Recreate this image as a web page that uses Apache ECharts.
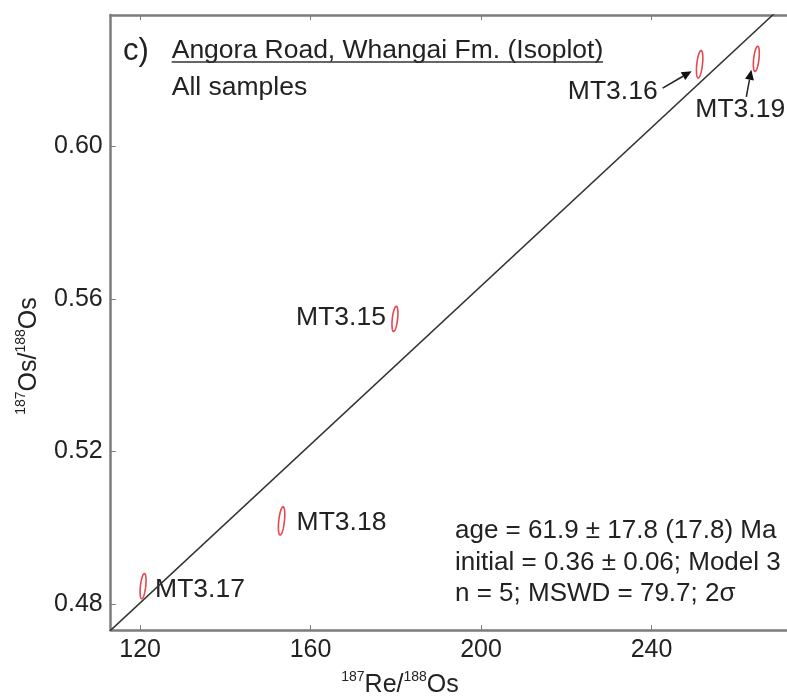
<!DOCTYPE html>
<html><head><meta charset="utf-8">
<script src="https://cdn.jsdelivr.net/npm/echarts@6/dist/echarts.min.js"></script>
<style>html,body{margin:0;padding:0;background:#fff}#c{width:787px;height:696px}</style>
</head><body><div id="c"></div>
<script>
// ---- data ----
const sampleNames = ['MT3.15', 'MT3.16', 'MT3.17', 'MT3.18', 'MT3.19'];
const reOs = [179.8, 251.3, 120.7, 153.2, 264.6];          // 187Re/188Os
const osOs = [0.5548, 0.6216, 0.4847, 0.5018, 0.6230];     // 187Os/188Os
const reErr2s = [0.7, 0.75, 0.7, 0.75, 0.7];
const osErr2s = [0.0033, 0.0036, 0.0033, 0.0037, 0.0033];
const errRho = [0.45, 0.45, 0.45, 0.45, 0.45];
const isochronRe = [110, 290];
const isochronOs = [0.4699, 0.6569];
const xTicks = [120, 160, 200, 240];
const yTicks = [0.48, 0.52, 0.56, 0.60];
const statsLines = ['age = 61.9 ± 17.8 (17.8) Ma', 'initial = 0.36 ± 0.06; Model 3', 'n = 5; MSWD = 79.7; 2σ'];

// ---- layout (pixels) for annotations, kept apart from data ----
const labelLayout = {
  'MT3.15': {dx: -9, dy: -1, align: 'right'},
  'MT3.16': {dx: -42, dy: 28, align: 'right', arrow: [-37, 24, -8, 7]},
  'MT3.17': {dx: 12, dy: 4, align: 'left'},
  'MT3.18': {dx: 15, dy: 2, align: 'left'},
  'MT3.19': {dx: -61, dy: 51, align: 'left', arrow: [-10, 38, -5, 11]}
};
const FONT = '"Liberation Sans", Arial, sans-serif';
const TXT = '#222';

const ellipseData = sampleNames.map((n, i) => [reOs[i], osOs[i], reErr2s[i], osErr2s[i], errRho[i]]);
const labelData = sampleNames.map((n, i) => [reOs[i], osOs[i]]);
const isoData = isochronRe.map((x, i) => [x, isochronOs[i]]);

const chart = echarts.init(document.getElementById('c'), null, {renderer: 'canvas'});
const axisLineStyle = {color: '#7c7c7c', width: 2.5};
const X_MIN = 113.1, X_MAX = 271.8;
const option = {
  backgroundColor: '#fff',
  animation: false,
  grid: {left: 110.7, top: 15, bottom: 66, right: 0},
  xAxis: [{
    type: 'value', min: X_MIN, max: X_MAX, position: 'bottom',
    axisLine: {show: true, lineStyle: axisLineStyle},
    axisTick: {show: true, inside: true, length: 5, customValues: xTicks, lineStyle: {color: '#7c7c7c'}},
    axisLabel: {customValues: xTicks, fontSize: 25, fontFamily: FONT, color: TXT, margin: 8},
    splitLine: {show: false}
  }, {
    type: 'value', min: X_MIN, max: X_MAX, position: 'top',
    axisLine: {show: true, lineStyle: axisLineStyle},
    axisTick: {show: true, inside: true, length: 5, customValues: xTicks, lineStyle: {color: '#7c7c7c'}},
    axisLabel: {show: false}, splitLine: {show: false}
  }],
  yAxis: [{
    type: 'value', min: 0.4732, max: 0.6345,
    axisLine: {show: true, lineStyle: axisLineStyle},
    axisTick: {show: true, inside: true, length: 5, customValues: yTicks, lineStyle: {color: '#7c7c7c'}},
    axisLabel: {customValues: yTicks, fontSize: 25, fontFamily: FONT, color: TXT, margin: 8,
      formatter: v => v.toFixed(2)},
    splitLine: {show: false}
  }],
  series: [{
    type: 'line', data: isoData, symbol: 'none', clip: true, silent: true,
    lineStyle: {color: '#333', width: 1.5}
  }, {
    type: 'custom', data: ellipseData, encode: {x: 0, y: 1}, clip: false,
    renderItem(params, api) {
      const cx = api.value(0), cy = api.value(1), sx = api.value(2), sy = api.value(3), r = api.value(4);
      const pts = [];
      for (let k = 0; k <= 72; k++) {
        const t = k / 72 * 2 * Math.PI;
        pts.push(api.coord([cx + sx * Math.cos(t), cy + sy * (r * Math.cos(t) + Math.sqrt(1 - r * r) * Math.sin(t))]));
      }
      return {type: 'polygon', shape: {points: pts}, style: {fill: 'none', stroke: '#e5484f', lineWidth: 1.6}};
    }
  }, {
    type: 'custom', data: labelData, encode: {x: 0, y: 1}, clip: false,
    renderItem(params, api) {
      const name = sampleNames[params.dataIndex];
      const L = labelLayout[name];
      const p = api.coord([api.value(0), api.value(1)]);
      const children = [{
        type: 'text', x: p[0] + L.dx, y: p[1] + L.dy,
        style: {text: name, fill: TXT, fontSize: 26.5, fontFamily: FONT, align: L.align, verticalAlign: 'middle'}
      }];
      if (L.arrow) {
        const x1 = p[0] + L.arrow[0], y1 = p[1] + L.arrow[1], x2 = p[0] + L.arrow[2], y2 = p[1] + L.arrow[3];
        const ang = Math.atan2(y2 - y1, x2 - x1), hl = 10, hw = 4.5;
        const bx = x2 - hl * Math.cos(ang), by = y2 - hl * Math.sin(ang);
        children.push({type: 'line', shape: {x1, y1, x2: bx, y2: by}, style: {stroke: '#222', lineWidth: 1.5}});
        children.push({type: 'polygon', shape: {points: [[x2, y2],
          [bx + hw * Math.sin(ang), by - hw * Math.cos(ang)], [bx - hw * Math.sin(ang), by + hw * Math.cos(ang)]]},
          style: {fill: '#111'}});
      }
      return {type: 'group', children};
    }
  }],
  graphic: [
    {type: 'text', left: 123, top: 36, style: {text: 'c)', fontSize: 31, fontFamily: FONT, fill: TXT}},
    {type: 'text', x: 171.7, y: 51, style: {text: 'Angora Road, Whangai Fm. (Isoplot)', fontSize: 26.5, fontFamily: FONT, fill: TXT, verticalAlign: 'middle'}},
    {type: 'line', shape: {x1: 171.7, y1: 62, x2: 603, y2: 62}, style: {stroke: '#333', lineWidth: 1.5}},
    {type: 'text', x: 171.7, y: 88, style: {text: 'All samples', fontSize: 26.5, fontFamily: FONT, fill: TXT, verticalAlign: 'middle'}},
    {type: 'text', x: 455, y: 531, style: {text: statsLines[0], fontSize: 26, fontFamily: FONT, fill: TXT, verticalAlign: 'middle'}},
    {type: 'text', x: 455, y: 563, style: {text: statsLines[1], fontSize: 26, fontFamily: FONT, fill: TXT, verticalAlign: 'middle'}},
    {type: 'text', x: 455, y: 594, style: {text: statsLines[2], fontSize: 26, fontFamily: FONT, fill: TXT, verticalAlign: 'middle'}},
    {type: 'text', x: 400, y: 684, style: {
      text: '{s|187}{m|Re/}{s|188}{m|Os}', align: 'center', verticalAlign: 'middle', fill: TXT,
      rich: {s: {fontSize: 14, fontFamily: FONT, fill: TXT, verticalAlign: 'top', lineHeight: 27},
             m: {fontSize: 25, fontFamily: FONT, fill: TXT, verticalAlign: 'bottom', lineHeight: 27}}}},
    {type: 'text', x: 28, y: 356, rotation: Math.PI / 2, style: {
      text: '{s|187}{m|Os/}{s|188}{m|Os}', align: 'center', verticalAlign: 'middle', fill: TXT,
      rich: {s: {fontSize: 14, fontFamily: FONT, fill: TXT, verticalAlign: 'top', lineHeight: 27},
             m: {fontSize: 25, fontFamily: FONT, fill: TXT, verticalAlign: 'bottom', lineHeight: 27}}}}
  ]
};
chart.setOption(option);
</script></body></html>
